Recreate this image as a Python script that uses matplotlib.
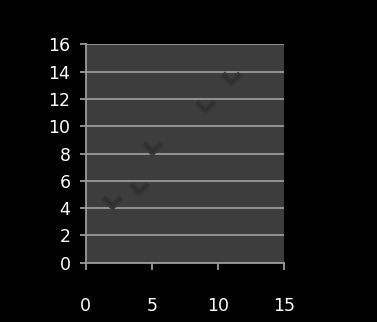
import matplotlib.pyplot as plt
import numpy as np

# scatter data
x_vals = [2, 4, 5, 9, 11]
y_vals = [4.5, 5.5, 8.5, 11.5, 13.5]
x_ticks = [0, 5, 10, 15]
y_ticks = [0, 2, 4, 6, 8, 10, 12, 14, 16]

fig = plt.figure(figsize=(3.77, 3.22), dpi=100)
fig.patch.set_facecolor("black")
ax = fig.add_axes([0.2273, 0.1842, 0.526, 0.678])
ax.set_facecolor("#3d3d3d")

# the markers look like shaded diamonds: only the blurred lower "V" shows
v_marker = [(-1, 0.5), (0, -0.5), (1, 0.5)]
ax.plot(x_vals, y_vals, ls="none", marker=v_marker, ms=13, mfc="none",
        mec="#373737", mew=5, zorder=3)
ax.plot(x_vals, y_vals, ls="none", marker=v_marker, ms=12, mfc="none",
        mec="#2f2f2f", mew=2, zorder=4)

ax.set_xlim(0, 15)
ax.set_ylim(0, 16)
ax.set_xticks(x_ticks)
ax.set_yticks(y_ticks)
ax.yaxis.grid(True, color="#9a9a9a", lw=1.3)
ax.set_axisbelow(True)

for side in ["top", "right"]:
    ax.spines[side].set_visible(False)
for side in ["left", "bottom"]:
    ax.spines[side].set_color("#9a9a9a")
    ax.spines[side].set_linewidth(1.3)

font = dict(family=["Liberation Sans Narrow", "DejaVu Sans"], size=12.5)
ax.tick_params(axis="y", colors="#9a9a9a", length=4, width=1.3, pad=7,
               labelcolor="white")
ax.tick_params(axis="x", colors="#9a9a9a", length=5, width=1.3, pad=20,
               labelcolor="white")
for lab in ax.get_xticklabels() + ax.get_yticklabels():
    lab.set_fontfamily(font["family"])
    lab.set_fontsize(font["size"])

fig.savefig("out.png", dpi=100, facecolor="black")
